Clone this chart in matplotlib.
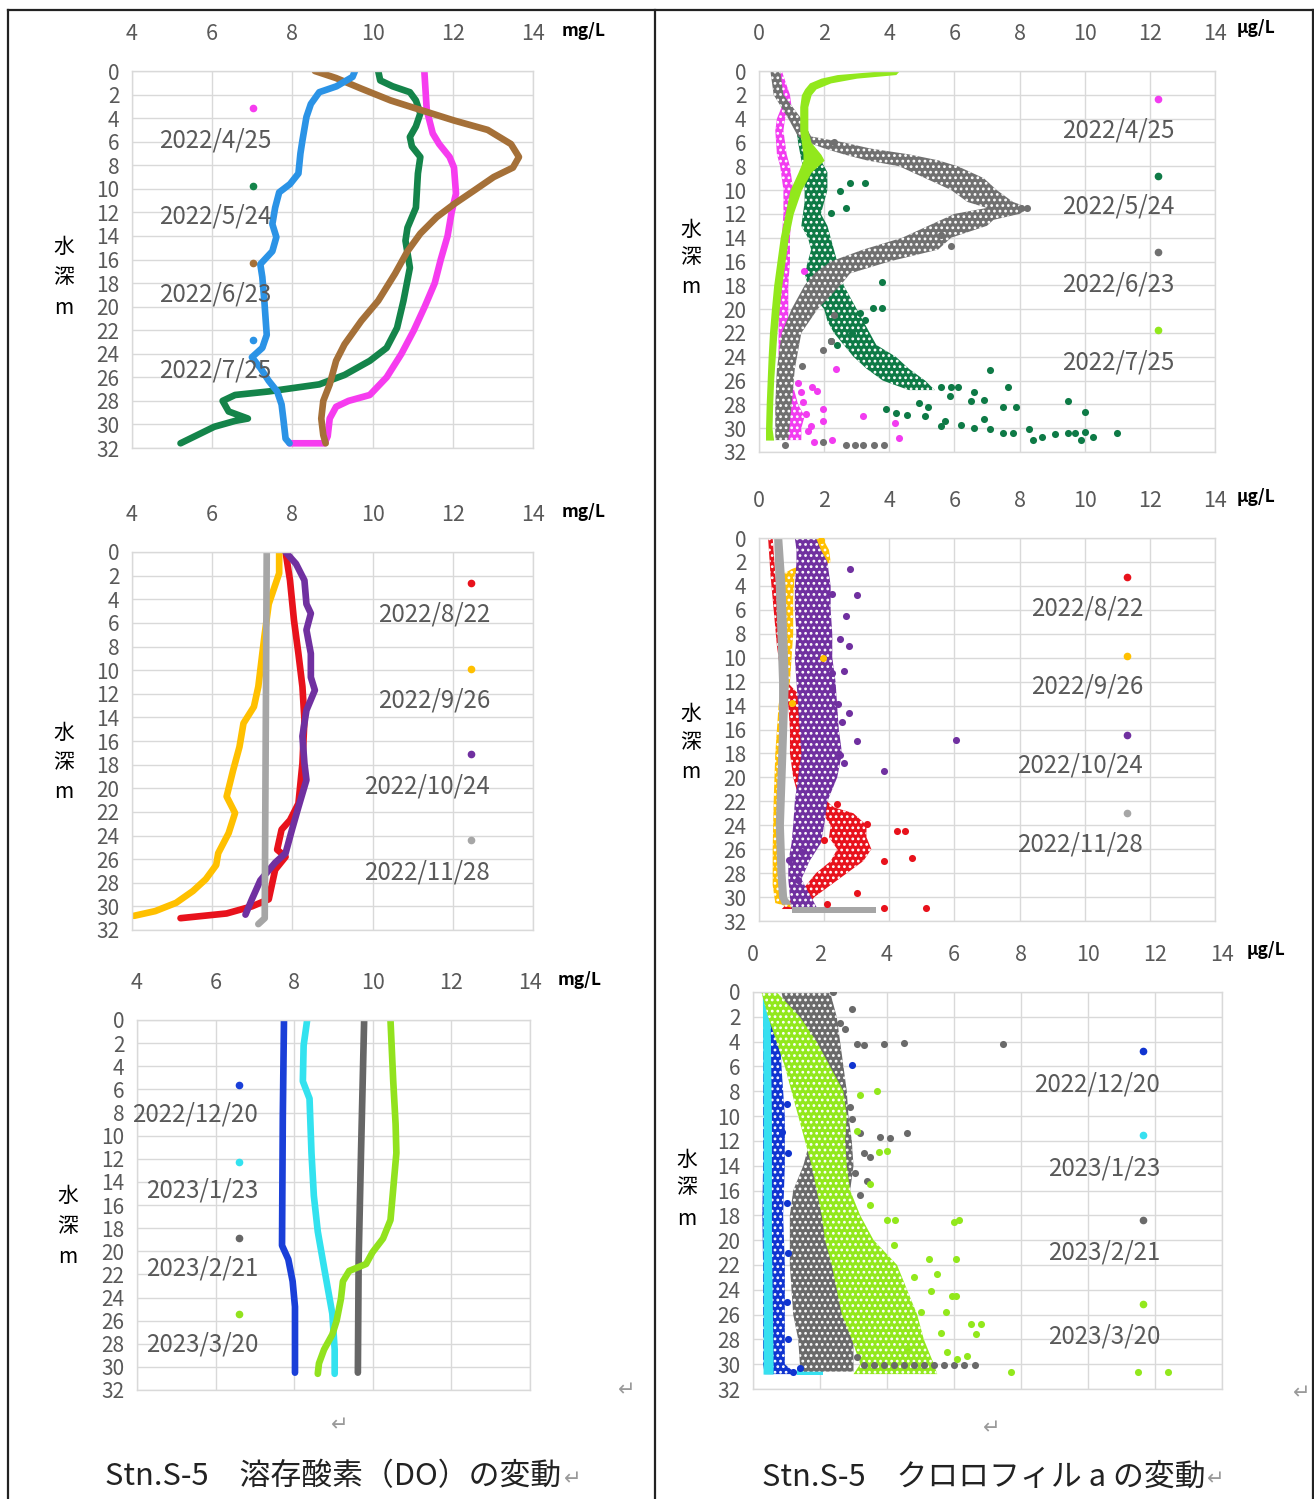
import matplotlib
matplotlib.use("Agg")
import matplotlib.pyplot as plt
from matplotlib.lines import Line2D

plt.rcParams['font.family'] = ['Noto Sans CJK JP', 'DejaVu Sans']
plt.rcParams['hatch.linewidth'] = 1.2

W, H = 1314, 1499
TICK_GREY = '#595959'
GRID = '#d9d9d9'

# ---------------- DO profiles (depth m, mg/L) ----------------
do_0425_d = [0, 3.3, 5.3, 6.2, 7.3, 8.2, 10.4, 12, 14, 16, 18, 20, 22, 24, 26, 27.5, 28, 28.5, 29.5, 31, 31.6, 31.6]
do_0425_v = [11.29, 11.35, 11.5, 11.66, 11.92, 12.03, 12.08, 11.97, 11.87, 11.7, 11.55, 11.3, 11.03, 10.72, 10.35, 9.93, 9.4, 9.09, 8.93, 8.88, 8.8, 7.93]
do_0524_d = [0, 0.8, 1.3, 1.8, 2.5, 3.6, 4.7, 5.6, 6.4, 7.3, 8.7, 11.6, 13.3, 14.4, 16.7, 19.5, 21.8, 23.5, 24.6, 25.8, 26.6, 27.2, 27.5, 28, 28.9, 29.5, 29.7, 30.2, 30.9, 31.6]
do_0524_v = [10.14, 10.19, 10.5, 10.93, 11.08, 11.19, 11.08, 10.93, 10.98, 11.19, 11.13, 11.08, 10.87, 10.82, 10.93, 10.77, 10.61, 10.35, 9.93, 9.3, 8.67, 7.41, 6.57, 6.26, 6.41, 6.89, 6.57, 6.05, 5.63, 5.21]
do_0623_d = [0, 0.6, 1.5, 2.5, 3.3, 4.2, 5, 6.2, 7.3, 8.2, 9, 10.1, 11.3, 12.4, 13.8, 15.3, 17.2, 19.5, 21.2, 23.2, 24.6, 26.6, 28, 29.5, 30.9, 31.6]
do_0623_v = [8.56, 9.09, 9.72, 10.45, 11.19, 12.03, 12.87, 13.45, 13.65, 13.5, 13.02, 12.55, 12.03, 11.6, 11.19, 10.87, 10.56, 10.14, 9.72, 9.3, 9.09, 8.93, 8.77, 8.72, 8.77, 8.83]
do_0725_d = [0, 0.5, 1.3, 1.8, 2.8, 3.9, 5.9, 7, 8.7, 9.6, 10.3, 11.6, 13, 14.1, 15.3, 16.4, 17.5, 19.5, 22.4, 23.5, 24.3, 25.2, 26.3, 27.2, 28.3, 29.7, 31.2, 31.6]
do_0725_v = [9.56, 9.5, 9.1, 8.67, 8.46, 8.35, 8.25, 8.2, 8.15, 7.94, 7.67, 7.57, 7.5, 7.6, 7.5, 7.2, 7.25, 7.3, 7.36, 7.25, 6.99, 7.2, 7.41, 7.62, 7.73, 7.78, 7.83, 7.93]

do_0822_d = [0, 2.4, 5.8, 8.6, 11.4, 14.2, 17.9, 21.3, 22.7, 23.5, 25.2, 25.8, 26.9, 29.4, 30, 30.6, 31]
do_0822_v = [7.83, 7.94, 8.04, 8.15, 8.25, 8.3, 8.25, 8.15, 7.94, 7.73, 7.62, 7.83, 7.57, 7.41, 6.99, 6.36, 5.21]
do_0926_d = [0, 1.8, 2.8, 4.4, 7.2, 10, 11.4, 13.1, 14.5, 16.5, 18.5, 20.7, 22.1, 23.8, 25.5, 26.5, 27.7, 28.7, 29.7, 30.4, 30.8]
do_0926_v = [7.67, 7.67, 7.57, 7.41, 7.3, 7.2, 7.15, 7.04, 6.78, 6.68, 6.52, 6.36, 6.57, 6.41, 6.15, 6.1, 5.84, 5.52, 5.1, 4.58, 4.05]
do_1024_d = [0, 1, 2.4, 4.4, 5.2, 6.6, 8.6, 10.6, 11.7, 13.4, 15.6, 17.9, 19.3, 21.6, 23.5, 25.5, 26.3, 27.8, 29.4, 30.7]
do_1024_v = [7.83, 8.09, 8.3, 8.35, 8.46, 8.35, 8.46, 8.46, 8.56, 8.35, 8.25, 8.3, 8.35, 8.15, 7.99, 7.83, 7.57, 7.2, 6.99, 6.83]
do_1128_d = [0, 31, 31.5]
do_1128_v = [7.36, 7.31, 7.15]

do_1220_d = [0, 8.4, 19.5, 20.7, 22.6, 24.8, 26.9, 30.5]
do_1220_v = [7.74, 7.71, 7.69, 7.85, 7.96, 8.02, 8.02, 8.02]
do_0123_d = [0, 2.2, 5.3, 6.8, 11.5, 15.2, 18.3, 21.4, 23.5, 25.4, 28.5, 30.6]
do_0123_v = [8.33, 8.24, 8.22, 8.39, 8.44, 8.5, 8.6, 8.76, 8.87, 8.97, 9.03, 9.03]
do_0221_d = [0, 11.5, 20.7, 30.5]
do_0221_v = [9.78, 9.7, 9.64, 9.62]
do_0320_d = [0, 5.3, 9, 11.5, 14.6, 17.3, 18.9, 20.1, 21.1, 21.7, 22.6, 24.1, 26, 27.2, 28.5, 29.7, 30.6]
do_0320_v = [10.45, 10.52, 10.58, 10.6, 10.52, 10.45, 10.26, 9.99, 9.83, 9.4, 9.24, 9.19, 9.08, 8.97, 8.76, 8.63, 8.6]

# ---------------- chlorophyll a (depth m, µg/L) ----------------
# dense part of each cloud: (depth, low, high); scattered readings: (depth, value)
chl_0425_band = [(0, 0.4, 0.7), (2, 0.6, 0.95), (3, 0.7, 1.0), (4, 0.55, 0.8), (5, 0.5, 0.75), (7, 0.55, 0.85),
                 (8, 0.65, 0.95), (10, 0.75, 1.05), (12, 0.75, 1.0), (14, 0.7, 0.95), (16, 0.7, 0.95), (18, 0.65, 0.9),
                 (20, 0.6, 0.9), (22, 0.6, 0.9), (24, 0.6, 0.95), (26, 0.65, 1.0), (28, 0.7, 1.2), (29, 0.75, 1.4),
                 (30, 0.8, 1.3), (31, 0.9, 1.3)]
chl_0425_pts = [(16.8, 1.38), (25.0, 2.35), (26.2, 1.19), (26.5, 1.64), (26.9, 1.77), (27.0, 1.3), (28.4, 1.97),
                (29.4, 1.97), (29.0, 3.2), (29.6, 4.17), (30.8, 4.3), (31.0, 2.23), (31.2, 1.7), (30.2, 1.5),
                (29.8, 1.6), (28.8, 1.45), (27.8, 1.35)]
chl_0524_band = [(4, 1.1, 1.4), (6, 1.2, 1.6), (7.5, 1.3, 1.9), (8.5, 1.4, 2.1), (10, 1.4, 2.1), (11, 1.4, 2.0),
                 (12, 1.35, 1.9), (13, 1.3, 2.1), (14, 1.5, 2.2), (15, 1.6, 2.3), (16, 1.5, 2.4), (17, 1.4, 2.5),
                 (18, 1.5, 2.6), (19, 1.7, 2.8), (20, 2.0, 3.0), (21, 2.1, 3.2), (22, 2.3, 3.4), (23, 2.6, 3.6),
                 (24, 2.9, 4.2), (25, 3.3, 4.6), (26, 3.8, 5.1), (26.8, 4.6, 5.4)]
chl_0524_pts = [(9.4, 2.8), (9.4, 3.26), (10.1, 2.5), (11.5, 2.68), (11.9, 2.2), (17.7, 3.78), (19.9, 3.5),
                (19.9, 3.78), (20.9, 3.26), (22.7, 2.2), (23.0, 2.4), (22.0, 2.87), (20.3, 3.1), (25.1, 7.1),
                (26.5, 5.6), (26.5, 6.1), (26.5, 7.66), (27.0, 6.6), (27.6, 6.9), (27.7, 6.5), (27.3, 5.85),
                (27.9, 4.9), (28.2, 5.2), (28.2, 7.5), (28.2, 7.9), (26.5, 5.9), (27.7, 9.5), (28.6, 10.0),
                (28.4, 3.9), (28.7, 4.2), (28.9, 4.55), (29.0, 5.1), (29.4, 5.7), (29.8, 5.6), (29.7, 6.2),
                (30.0, 6.6), (30.1, 7.1), (30.4, 7.5), (30.4, 7.8), (30.1, 8.3), (30.7, 8.7), (30.5, 9.1),
                (30.4, 9.5), (30.3, 10.0), (30.7, 10.25), (30.4, 11.0), (31.0, 8.4), (30.4, 9.7), (31.0, 9.9),
                (29.2, 6.9)]
chl_0623_band = [(0, 0.35, 0.65), (2, 0.45, 0.75), (4, 0.9, 1.3), (5.5, 1.2, 1.6), (6, 1.5, 2.6), (6.5, 2.0, 3.4),
                 (7, 2.6, 4.6), (7.5, 3.3, 5.5), (8, 4.3, 6.1), (9, 5.1, 6.9), (10, 5.9, 7.3), (11, 6.4, 7.8),
                 (11.5, 7.0, 8.3), (12, 6.0, 8.0), (12.5, 5.6, 7.2), (13, 5.2, 7.0), (14, 4.4, 5.9), (15, 3.2, 5.5),
                 (16, 2.2, 4.0), (17, 1.7, 2.8), (18, 1.4, 2.5), (20, 1.0, 1.8), (22, 0.7, 1.3), (25, 0.55, 1.1),
                 (28, 0.5, 1.0), (31, 0.5, 0.9)]
chl_0623_pts = [(11.5, 8.24), (11.5, 8.05), (13.8, 5.6), (14.7, 5.9), (22.7, 2.2), (23.4, 1.97), (24.8, 1.32),
                (31.4, 2.68), (31.4, 2.94), (31.4, 3.2), (31.4, 3.52), (31.4, 3.84), (31.2, 1.97), (31.4, 0.8),
                (6.0, 2.3), (20.5, 2.3)]
chl_0725_band = [(0, 3.7, 4.3), (0.3, 2.4, 4.2), (0.6, 1.9, 3.0), (1.0, 1.55, 2.2), (1.5, 1.4, 1.75), (2, 1.3, 1.6),
                 (3, 1.25, 1.5), (5, 1.25, 1.5), (6, 1.3, 1.6), (7, 1.35, 1.9), (7.5, 1.35, 2.0), (8.5, 1.2, 1.6),
                 (10, 0.95, 1.3), (12, 0.8, 1.05), (14, 0.65, 0.9), (16, 0.55, 0.8), (18, 0.45, 0.7),
                 (20, 0.38, 0.62), (22, 0.32, 0.55), (24, 0.28, 0.5), (26, 0.25, 0.45), (28, 0.22, 0.42),
                 (30, 0.2, 0.4), (31, 0.2, 0.45)]

chl_0822_band = [(0, 0.28, 0.42), (3, 0.35, 0.5), (6, 0.45, 0.6), (9, 0.55, 0.7), (12, 0.7, 0.85), (13, 0.85, 1.2),
                 (14, 0.9, 1.3), (16, 0.95, 1.35), (18, 0.95, 1.35), (20, 1.05, 1.45), (21, 1.15, 1.5),
                 (21.8, 1.5, 2.0), (22.5, 1.8, 2.3), (23, 1.95, 2.9), (24, 2.2, 3.3), (25, 2.15, 3.3),
                 (26, 2.4, 3.45), (27, 2.2, 3.2), (28, 1.75, 2.7), (29, 1.45, 2.2), (30, 1.05, 1.7), (31, 0.7, 1.4)]
chl_0822_pts = [(24.5, 4.23), (24.5, 4.49), (26.7, 4.71), (27.0, 3.84), (29.7, 3.0), (30.9, 3.84), (30.9, 5.14),
                (30.6, 2.1), (23.9, 3.32), (25.2, 2.0), (22.2, 2.4)]
chl_0926_band = [(0, 1.5, 1.95), (1, 1.55, 2.15), (2, 1.6, 2.2), (2.6, 1.0, 1.8), (3, 0.75, 1.1), (5, 0.72, 1.05),
                 (8, 0.75, 1.05), (10, 0.72, 1.0), (12, 0.7, 0.95), (14, 0.6, 0.75), (18, 0.5, 0.68),
                 (22, 0.45, 0.65), (26, 0.42, 0.62), (29, 0.42, 0.62), (30.5, 0.5, 0.8), (31.2, 1.4, 2.0)]
chl_0926_pts = [(10.0, 1.97), (13.8, 1.0), (0.2, 1.9)]
chl_1024_band = [(0, 1.1, 1.75), (1, 1.15, 1.9), (2, 1.15, 2.1), (4, 1.1, 2.2), (6, 1.1, 2.2), (8, 1.15, 2.25),
                 (10, 1.1, 2.25), (12, 1.15, 2.35), (14, 1.2, 2.4), (16, 1.25, 2.45), (18, 1.3, 2.55),
                 (20, 1.2, 2.4), (22, 1.1, 2.1), (24, 1.05, 2.0), (25.5, 1.0, 1.9), (27, 0.9, 1.55),
                 (28.5, 0.9, 1.3), (30, 0.95, 1.6), (31, 1.0, 1.8)]
chl_1024_pts = [(2.6, 2.8), (4.8, 3.0), (4.7, 2.23), (6.5, 2.68), (8.4, 2.48), (9.0, 2.77), (11.1, 2.6),
                (12.6, 2.23), (13.9, 2.42), (14.6, 2.77), (15.4, 2.55), (17.0, 3.0), (16.9, 6.04), (19.5, 3.84),
                (18.8, 2.6), (18.1, 2.5), (11.3, 2.23), (26.2, 1.32), (28.6, 1.19), (26.9, 0.93)]
chl_1128_band = [(0, 0.45, 0.7), (4, 0.5, 0.8), (8, 0.55, 0.85), (12, 0.6, 0.9), (16, 0.6, 0.85), (20, 0.55, 0.8),
                 (24, 0.5, 0.75), (28, 0.55, 0.8), (30, 0.6, 0.85), (30.6, 0.7, 1.0)]
chl_1128_bottom = [(30.8, 1.0, 3.6), (31.3, 1.0, 3.6)]

chl_1220_band = [(0, 0.32, 0.7), (3, 0.3, 0.8), (6, 0.3, 0.85), (10, 0.3, 0.95), (14, 0.3, 0.95), (18, 0.28, 0.9),
                 (22, 0.3, 0.95), (26, 0.3, 0.95), (30, 0.3, 0.95), (30.8, 0.35, 1.3)]
chl_1220_pts = [(5.9, 2.97), (11.3, 0.86), (30.6, 1.2), (30.3, 1.4), (9.0, 1.0), (13.0, 1.05), (17.0, 1.0),
                (21.0, 1.05), (25.0, 1.0), (28.0, 1.05)]
chl_0123_band = [(0, 0.28, 0.5), (10, 0.3, 0.55), (20, 0.3, 0.55), (30, 0.3, 0.6), (30.8, 0.3, 0.6)]
chl_0123_bottom = [(30.4, 1.3, 2.1), (30.9, 1.3, 2.1)]
chl_0221_band = [(0, 0.85, 2.3), (2, 1.0, 2.5), (4, 1.2, 2.6), (6, 1.35, 2.7), (8, 1.5, 2.8), (10, 1.6, 2.85),
                 (12, 1.7, 2.95), (14, 1.5, 3.0), (16, 1.2, 2.9), (18, 1.1, 2.6), (20, 1.1, 2.6), (22, 1.1, 2.6),
                 (24, 1.15, 2.7), (26, 1.2, 2.8), (28, 1.35, 3.0), (30, 1.4, 3.0), (30.6, 1.5, 3.0)]
chl_0221_pts = [(0, 2.4), (1.4, 2.97), (2.5, 2.6), (3.0, 2.75), (4.2, 3.1), (4.3, 3.3), (4.2, 3.9), (4.1, 4.5),
                (4.2, 7.45), (9.3, 2.9), (10.2, 2.95), (11.4, 3.2), (11.7, 3.8), (11.8, 4.1), (11.4, 4.6),
                (13.0, 3.3), (13.3, 3.5), (14.6, 3.05), (15.2, 3.4), (16.4, 3.2), (29.4, 3.1), (30.1, 3.3),
                (30.1, 3.6), (30.1, 3.9), (30.1, 4.2), (30.1, 4.5), (30.1, 4.8), (30.1, 5.1), (30.1, 5.4),
                (30.1, 5.7), (30.1, 6.0), (30.1, 6.3), (30.1, 6.64)]
chl_0320_band = [(0, 0.25, 0.7), (2, 0.45, 1.4), (4, 0.7, 1.9), (6, 0.95, 2.3), (8, 1.15, 2.7), (10, 1.35, 2.8),
                 (12, 1.55, 2.75), (14, 1.75, 2.8), (16, 1.9, 2.9), (18, 2.05, 3.2), (20, 2.15, 3.6),
                 (22, 2.35, 4.3), (24, 2.5, 4.6), (26, 2.65, 4.9), (28, 2.95, 5.1), (30, 3.2, 5.4), (30.8, 3.0, 5.5)]
chl_0320_pts = [(8.0, 3.7), (8.3, 3.2), (11.2, 3.1), (12.8, 4.0), (12.9, 3.75), (15.5, 3.5), (17.2, 3.5),
                (18.4, 4.0), (18.4, 4.25), (18.5, 6.0), (18.4, 6.15), (21.5, 5.26), (21.5, 6.07), (22.7, 5.5),
                (24.1, 5.3), (24.5, 5.95), (24.5, 6.07), (25.8, 5.76), (26.8, 6.5), (26.8, 6.8), (27.6, 6.65),
                (29.3, 6.38), (29.6, 6.1), (30.6, 7.7), (30.6, 11.5), (30.6, 12.4), (25.8, 5.0), (28.7, 4.6),
                (20.4, 4.2), (23.0, 4.8), (27.5, 5.6), (29.0, 5.8)]

dates_a = ['2022/4/25', '2022/5/24', '2022/6/23', '2022/7/25']
dates_b = ['2022/8/22', '2022/9/26', '2022/10/24', '2022/11/28']
dates_c = ['2022/12/20', '2023/1/23', '2023/2/21', '2023/3/20']

do_ticks = [4, 6, 8, 10, 12, 14]
chl_ticks = [0, 2, 4, 6, 8, 10, 12, 14]
depth_ticks = list(range(0, 33, 2))

fig = plt.figure(figsize=(W / 100, H / 100), dpi=100)
fig.patch.set_facecolor('white')


def fx(x):
    return x / W


def fy(y):
    return 1 - y / H


def panel(x0, x1, y0, y1, xticks, unit, unit_pos, ylab_x, ylab_ys):
    ax = fig.add_axes([fx(x0), fy(y1), (x1 - x0) / W, (y1 - y0) / H])
    ax.set_xlim(xticks[0], xticks[-1])
    ax.set_ylim(32, 0)
    ax.set_xticks(xticks)
    ax.set_yticks(depth_ticks)
    ax.xaxis.tick_top()
    ax.tick_params(axis='x', length=0, pad=19, labelsize=15.5, labelcolor=TICK_GREY)
    ax.tick_params(axis='y', length=0, pad=9, labelsize=15, labelcolor=TICK_GREY)
    ax.grid(True, color=GRID, lw=1)
    ax.set_axisbelow(True)
    for s in ax.spines.values():
        s.set_color(GRID)
        s.set_linewidth(1)
    fig.text(fx(unit_pos[0]), fy(unit_pos[1]), unit, fontsize=12.5, fontweight='bold',
             color='black', va='center', ha='left')
    for ch, yy in zip(['水', '深', 'm'], ylab_ys):
        fig.text(fx(ylab_x), fy(yy), ch, fontsize=15, color='black', ha='center', va='center')
    return ax


def legend(labels, colors, dot_x, dot_ys, text_right, text_ys):
    for lab, col, dy, ty in zip(labels, colors, dot_ys, text_ys):
        fig.add_artist(Line2D([fx(dot_x)], [fy(dy)], marker='o', ms=4.5, color=col, lw=0))
        fig.text(fx(text_right), fy(ty), lab, fontsize=17.3, color=TICK_GREY, ha='right', va='center')


def do_line(ax, d, v, color):
    ax.plot(v, d, color=color, lw=4.8, solid_capstyle='round', solid_joinstyle='round')


def chl_band(ax, band, color, hatch='...'):
    # white speckle over the filled core so it reads as a dense cloud of readings
    d, lo, hi = zip(*band)
    ax.fill_betweenx(d, lo, hi, facecolor=color, edgecolor='white', hatch=hatch, lw=0)


def chl_pts(ax, pts, color):
    d, v = zip(*pts)
    ax.scatter(v, d, s=26, color=color, lw=0, zorder=3)


# ---- DO, April - July ----
c_a_do = ['#f63cef', '#14844a', '#a57038', '#2b93e6']
ax = panel(132, 533, 71, 448, do_ticks, 'mg/L', (562, 31), 64, (247, 277, 308))
do_line(ax, do_0425_d, do_0425_v, c_a_do[0])
do_line(ax, do_0524_d, do_0524_v, c_a_do[1])
do_line(ax, do_0623_d, do_0623_v, c_a_do[2])
do_line(ax, do_0725_d, do_0725_v, c_a_do[3])
legend(dates_a, c_a_do, 253, (108, 186, 263, 340), 271, (140, 217, 294, 371))

# ---- DO, August - November ----
c_b = ['#e8121c', '#ffc000', '#7030a0', '#a6a6a6']
ax = panel(132, 533, 552, 930, do_ticks, 'mg/L', (562, 512), 64, (733, 762, 792))
do_line(ax, do_0822_d, do_0822_v, c_b[0])
do_line(ax, do_0926_d, do_0926_v, c_b[1])
do_line(ax, do_1024_d, do_1024_v, c_b[2])
do_line(ax, do_1128_d, do_1128_v, c_b[3])
legend(dates_b, c_b, 471, (583, 669, 754, 840), 490, (614, 701, 787, 872))

# ---- DO, December - March ----
c_c_do = ['#1a3fd8', '#33e2ef', '#666666', '#92e21e']
ax = panel(137, 530, 1020, 1390, do_ticks, 'mg/L', (558, 980), 68, (1196, 1226, 1257))
do_line(ax, do_1220_d, do_1220_v, c_c_do[0])
do_line(ax, do_0123_d, do_0123_v, c_c_do[1])
do_line(ax, do_0221_d, do_0221_v, c_c_do[2])
do_line(ax, do_0320_d, do_0320_v, c_c_do[3])
legend(dates_c, c_c_do, 239, (1085, 1162, 1238, 1314), 258, (1115, 1191, 1268, 1345))

# ---- chlorophyll, April - July ----
c_a_chl = ['#f23cf0', '#0e7a46', '#707070', '#92e81c']
ax = panel(759, 1215, 71, 452, chl_ticks, 'µg/L', (1237, 28), 691, (230, 257, 287))
chl_band(ax, chl_0425_band, c_a_chl[0])
chl_pts(ax, chl_0425_pts, c_a_chl[0])
chl_band(ax, chl_0524_band, c_a_chl[1])
chl_pts(ax, chl_0524_pts, c_a_chl[1])
chl_band(ax, chl_0623_band, c_a_chl[2])
chl_pts(ax, chl_0623_pts, c_a_chl[2])
chl_band(ax, chl_0725_band, c_a_chl[3], hatch=None)
legend(dates_a, c_a_chl, 1158, (99, 176, 252, 330), 1174, (130, 207, 285, 362))

# ---- chlorophyll, August - November ----
ax = panel(759, 1215, 538, 921, chl_ticks, 'µg/L', (1237, 497), 691, (714, 742, 772))
chl_band(ax, chl_0822_band, c_b[0])
chl_pts(ax, chl_0822_pts, c_b[0])
chl_band(ax, chl_0926_band, c_b[1])
chl_pts(ax, chl_0926_pts, c_b[1])
chl_band(ax, chl_1024_band, c_b[2])
chl_pts(ax, chl_1024_pts, c_b[2])
chl_band(ax, chl_1128_band, c_b[3], hatch=None)
chl_band(ax, chl_1128_bottom, c_b[3], hatch=None)
legend(dates_b, c_b, 1127, (577, 656, 735, 813), 1143, (608, 687, 766, 845))

# ---- chlorophyll, December - March ----
c_c_chl = ['#1034d0', '#37e0f0', '#6a6a6a', '#92e81c']
ax = panel(753, 1222, 992, 1389, chl_ticks, 'µg/L', (1247, 950), 687, (1160, 1187, 1219))
chl_band(ax, chl_1220_band, c_c_chl[0])
chl_pts(ax, chl_1220_pts, c_c_chl[0])
chl_band(ax, chl_0123_band, c_c_chl[1], hatch=None)
chl_band(ax, chl_0123_bottom, c_c_chl[1], hatch=None)
chl_band(ax, chl_0221_band, c_c_chl[2])
chl_pts(ax, chl_0221_pts, c_c_chl[2])
chl_band(ax, chl_0320_band, c_c_chl[3])
chl_pts(ax, chl_0320_pts, c_c_chl[3])
legend(dates_c, c_c_chl, 1143, (1051, 1135, 1220, 1304), 1160, (1084, 1168, 1253, 1337))

# ---- page frame, captions and paragraph marks ----
frame = dict(color='#222222', lw=1.6)
fig.add_artist(Line2D([fx(8), fx(1313)], [fy(10), fy(10)], **frame))
fig.add_artist(Line2D([fx(8), fx(8)], [fy(10), fy(1499)], **frame))
fig.add_artist(Line2D([fx(655), fx(655)], [fy(10), fy(1499)], **frame))
fig.add_artist(Line2D([fx(1313), fx(1313)], [fy(10), fy(1499)], **frame))

fig.text(fx(105), fy(1477), 'Stn.S-5\u3000溶存酸素（DO）の変動', fontsize=22.2, color='#222222',
         ha='left', va='center')
fig.text(fx(762), fy(1477), 'Stn.S-5\u3000クロロフィル a の変動', fontsize=22.2, color='#222222',
         ha='left', va='center')
for x, y in [(573, 1479), (1216, 1479), (627, 1390), (340, 1425), (992, 1428), (1302, 1393)]:
    fig.text(fx(x), fy(y), '↵', fontsize=15, color='#9a9a9a', ha='center', va='center',
             family=['DejaVu Sans'])

fig.savefig('out.png', dpi=100, facecolor='white')
